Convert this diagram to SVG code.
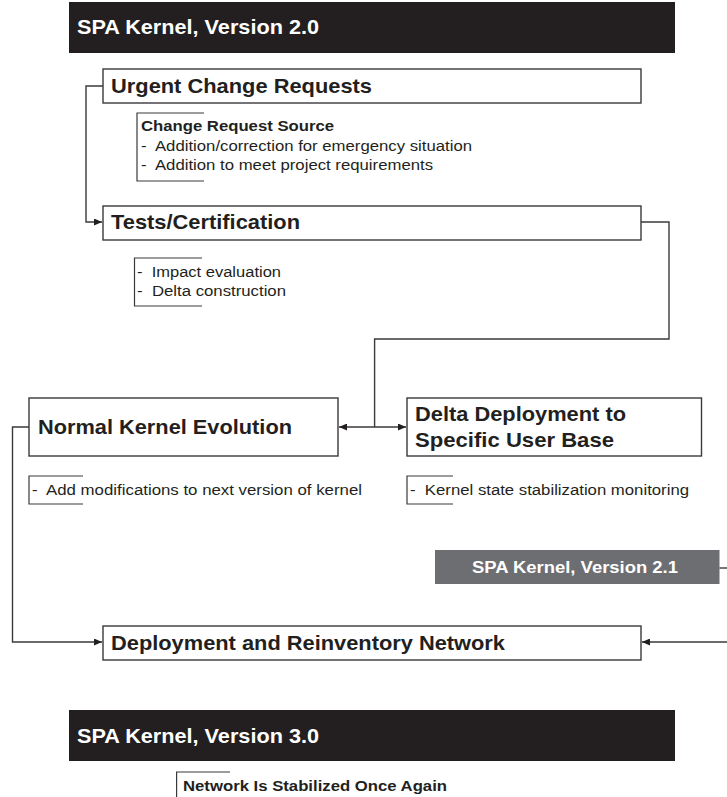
<svg xmlns="http://www.w3.org/2000/svg" width="727" height="797" viewBox="0 0 727 797">
  <defs>
    <marker id="arrow" viewBox="0 0 8 7" markerWidth="8" markerHeight="7" refX="8" refY="3.5" orient="auto-start-reverse" markerUnits="userSpaceOnUse">
      <path d="M0,0 L8,3.5 L0,7 z" fill="#231f20"/>
    </marker>
  </defs>
  <style>
    text { font-family: "Liberation Sans", Arial, sans-serif; fill: #231f20; }
    .band { fill: #231f20; }
    .band-grey { fill: #6d6e71; }
    .band-text { fill: #ffffff; font-weight: bold; }
    .box { fill: #ffffff; stroke: #3a3a3c; stroke-width: 1.4; }
    .title { font-weight: bold; font-size: 21px; }
    .note { font-size: 14px; }
    .note-b { font-size: 14px; font-weight: bold; }
    .bracket { fill: none; stroke: #3a3a3c; stroke-width: 1.2; }
    .wire { fill: none; stroke: #3a3a3c; stroke-width: 1.4; }
  </style>
  <rect width="727" height="797" fill="#ffffff"/>

  <!-- version bands and nodes -->
  <g id="v20">
    <rect class="band" x="69" y="2" width="606" height="51"/>
    <text class="band-text" x="77" y="34" font-size="21" textLength="242" lengthAdjust="spacingAndGlyphs">SPA Kernel, Version 2.0</text>
  </g>

  <g id="urgent">
    <rect class="box" x="103" y="69" width="538" height="34"/>
    <text class="title" x="111" y="93" textLength="261" lengthAdjust="spacingAndGlyphs">Urgent Change Requests</text>
  </g>

  <g id="urgent-notes">
    <path class="bracket" d="M204,113 H137 V181 H204"/>
    <text class="note-b" x="141" y="131" textLength="193" lengthAdjust="spacingAndGlyphs">Change Request Source</text>
    <text class="note" x="141" y="151" textLength="331" lengthAdjust="spacingAndGlyphs" xml:space="preserve">-  Addition/correction for emergency situation</text>
    <text class="note" x="141" y="170" textLength="292" lengthAdjust="spacingAndGlyphs" xml:space="preserve">-  Addition to meet project requirements</text>
  </g>

  <g id="tests">
    <rect class="box" x="103" y="206" width="538" height="34"/>
    <text class="title" x="111" y="229" textLength="189" lengthAdjust="spacingAndGlyphs">Tests/Certification</text>
  </g>

  <g id="tests-notes">
    <path class="bracket" d="M202,258 H134.5 V306 H202"/>
    <text class="note" x="137" y="277" textLength="144" lengthAdjust="spacingAndGlyphs" xml:space="preserve">-  Impact evaluation</text>
    <text class="note" x="137" y="296" textLength="149" lengthAdjust="spacingAndGlyphs" xml:space="preserve">-  Delta construction</text>
  </g>

  <g id="normal">
    <rect class="box" x="29" y="398" width="309" height="58"/>
    <text class="title" x="38" y="434" textLength="254" lengthAdjust="spacingAndGlyphs">Normal Kernel Evolution</text>
  </g>

  <g id="normal-notes">
    <path class="bracket" d="M83,476 H29 V504 H83"/>
    <text class="note" x="32" y="495" textLength="330" lengthAdjust="spacingAndGlyphs" xml:space="preserve">-  Add modifications to next version of kernel</text>
  </g>

  <g id="delta">
    <rect class="box" x="407" y="398" width="294.5" height="58"/>
    <text class="title" x="415" y="421" textLength="211" lengthAdjust="spacingAndGlyphs">Delta Deployment to</text>
    <text class="title" x="415" y="447" textLength="199" lengthAdjust="spacingAndGlyphs">Specific User Base</text>
  </g>

  <g id="delta-notes">
    <path class="bracket" d="M453,476 H407 V504 H453"/>
    <text class="note" x="410" y="495" textLength="279" lengthAdjust="spacingAndGlyphs" xml:space="preserve">-  Kernel state stabilization monitoring</text>
  </g>

  <g id="v21">
    <rect class="band-grey" x="435" y="550" width="284.5" height="34"/>
    <text class="band-text" x="575" y="573" font-size="16" text-anchor="middle" textLength="206" lengthAdjust="spacingAndGlyphs">SPA Kernel, Version 2.1</text>
  </g>

  <g id="deploy">
    <rect class="box" x="103" y="626" width="538" height="34"/>
    <text class="title" x="111" y="650" textLength="394" lengthAdjust="spacingAndGlyphs">Deployment and Reinventory Network</text>
  </g>

  <g id="v30">
    <rect class="band" x="69" y="710" width="606" height="51"/>
    <text class="band-text" x="77" y="743" font-size="21" textLength="242" lengthAdjust="spacingAndGlyphs">SPA Kernel, Version 3.0</text>
  </g>

  <g id="v30-notes">
    <path class="bracket" d="M230,772 H176.6 V800"/>
    <text class="note-b" x="183" y="791" font-size="14.5" textLength="264" lengthAdjust="spacingAndGlyphs">Network Is Stabilized Once Again</text>
  </g>

  <!-- connectors -->
  <g id="connectors">
    <path class="wire" d="M103,86 H86 V222 H102" marker-end="url(#arrow)"/>
    <path class="wire" d="M641,222 H669 V339 H374.6 V427"/>
    <path class="wire" d="M339,427 H406" marker-start="url(#arrow)" marker-end="url(#arrow)"/>
    <path class="wire" d="M29,427 H12.5 V642 H102" marker-end="url(#arrow)"/>
    <path class="wire" d="M727,642 H642" marker-end="url(#arrow)"/>
    <path class="wire" d="M719.5,568 H727"/>
  </g>
</svg>
